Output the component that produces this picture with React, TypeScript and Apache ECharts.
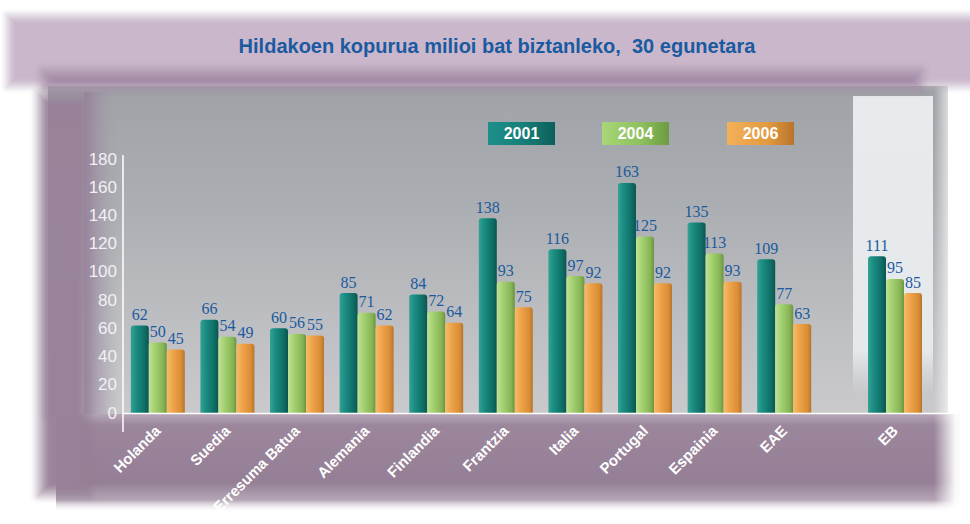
import React, { useEffect, useRef } from 'react';
import * as echarts from 'echarts';

const categories = ['Holanda', 'Suedia', 'Erresuma Batua', 'Alemania', 'Finlandia', 'Frantzia', 'Italia', 'Portugal', 'Espainia', 'EAE', 'EB'];
const years = ['2001', '2004', '2006'];
const values2001 = [62, 66, 60, 85, 84, 138, 116, 163, 135, 109, 111];
const values2004 = [50, 54, 56, 71, 72, 93, 97, 125, 113, 77, 95];
const values2006 = [45, 49, 55, 62, 64, 75, 92, 92, 93, 63, 85];
const yMin = 0;
const yMax = 180;
const yInterval = 20;
const titleText = 'Hildakoen kopurua milioi bat biztanleko,  30 egunetara';

const SANS = '"Liberation Sans", Arial, sans-serif';
const SERIF = '"Liberation Serif", "DejaVu Serif", serif';

const lg = (stops: [number, string][], horizontal = true) =>
  new echarts.graphic.LinearGradient(0, 0, horizontal ? 1 : 0, horizontal ? 0 : 1,
    stops.map(([offset, color]) => ({ offset, color })));

// fake blurred rectangle: stacked translucent rects following a smooth ramp
const soft = (x: number, y: number, w: number, h: number, rgb: string, blur: number, z: number, steps = 16, peak = 0.97) => {
  const out: any[] = [];
  const ss = (t: number) => t * t * (3 - 2 * t);
  let prev = 0;
  for (let k = 1; k <= steps; k++) {
    const c = peak * ss(k / steps);
    const a = 1 - (1 - c) / (1 - prev);
    prev = c;
    const d = blur / 2 - (blur * (k - 1)) / (steps - 1);
    out.push({
      type: 'rect', z, silent: true,
      shape: { x: x - d, y: y - d, width: w + 2 * d, height: h + 2 * d, r: Math.max(0, d * 0.8) },
      style: { fill: `rgba(${rgb},${a.toFixed(4)})` },
    });
  }
  return out;
};

const barFills = [
  () => lg([[0, '#34a295'], [0.3, '#1a8c82'], [0.75, '#0f6f67'], [1, '#0a564f']]),
  () => lg([[0, '#bfe295'], [0.35, '#a3d06f'], [0.8, '#86b455'], [1, '#6b9440']]),
  () => lg([[0, '#f7bb68'], [0.35, '#eea34a'], [0.8, '#d98d36'], [1, '#b8742a']]),
];
const legendFills = [
  () => lg([[0, '#1f8f8a'], [0.5, '#168079'], [1, '#0c5f5a']]),
  () => lg([[0, '#a8d678'], [0.6, '#8cbf5c'], [1, '#6d9a42']]),
  () => lg([[0, '#f3b15a'], [0.6, '#e39a40'], [1, '#b8742c']]),
];

export default function App() {
  const ref = useRef<HTMLDivElement>(null);
  useEffect(() => {
    if (!ref.current) return;
    document.body.style.margin = '0';
    const chart = echarts.init(ref.current, undefined, { renderer: 'svg' });
    const seriesValues = [values2001, values2004, values2006];
    const mainCats = categories.slice(0, 10);
    const sideCats = categories.slice(10);

    const series: any[] = [];
    [0, 1].forEach((g) => {
      seriesValues.forEach((vals, i) => {
        series.push({
          type: 'bar',
          name: years[i],
          xAxisIndex: g,
          yAxisIndex: g,
          data: g === 0 ? vals.slice(0, 10) : vals.slice(10),
          barWidth: 18,
          barGap: '0%',
          itemStyle: { color: barFills[i](), borderRadius: [3, 3, 0, 0] },
          label: {
            show: true,
            position: 'top',
            distance: 3,
            color: '#1b5a9e',
            fontFamily: SERIF,
            fontSize: 16,
          },
          z: 3,
        });
      });
    });

    const legendItems: any[] = [];
    const legendX = [488, 602, 727];
    years.forEach((y, i) => {
      legendItems.push({
        type: 'rect',
        shape: { x: legendX[i], y: 122, width: 67, height: 23 },
        style: { fill: legendFills[i]() },
        z: 5,
      });
      legendItems.push({
        type: 'text',
        x: legendX[i] + 33.5,
        y: 133.5,
        style: {
          text: y, fill: '#ffffff', font: `bold 16px ${SANS}`,
          textAlign: 'center', textVerticalAlign: 'middle',
        },
        z: 6,
      });
    });

    const bg: any[] = [
      // gray plot area
      ...soft(46, 88, 896, 328, '190,191,195', 16, -31, 12, 0.9),
      {
        type: 'rect', z: -30, silent: true,
        shape: { x: 48, y: 86, width: 900, height: 330 },
        style: { fill: lg([[0, '#9fa2a6'], [0.35, '#aaadb1'], [0.75, '#bfc0c4'], [1, '#cacacd']], false) },
      },
      // EB panel
      {
        type: 'rect', z: -29, silent: true,
        shape: { x: 853, y: 96, width: 80, height: 300 },
        style: { fill: lg([[0, '#e8ebee'], [0.85, '#e6e9ec'], [1, 'rgba(222,224,228,0)']], false) },
      },
      // bottom band
      {
        type: 'rect', z: -28, silent: true,
        shape: { x: 56, y: 414, width: 904, height: 98 },
        style: { fill: lg([[0, '#b5a6b7'], [0.12, '#9b869c'], [0.7, '#957f96'], [0.88, '#b5a6b6'], [1, '#ffffff']], false) },
      },
      // left purple strip
      ...soft(40, 96, 48, 398, '152,130,154', 22, -27),
      {
        type: 'rect', z: -26, silent: true,
        shape: { x: 84, y: 92, width: 36, height: 322 },
        style: { fill: lg([[0, 'rgba(152,130,154,0.85)'], [0.5, 'rgba(160,145,165,0.5)'], [1, 'rgba(170,170,175,0)']]) },
      },
      // right white fade
      {
        type: 'rect', z: -25, silent: true,
        shape: { x: 934, y: 78, width: 36, height: 446 },
        style: { fill: lg([[0, 'rgba(255,255,255,0)'], [0.6, 'rgba(255,255,255,0.95)'], [1, '#ffffff']]) },
      },
      // bottom white fade
      {
        type: 'rect', z: -25, silent: true,
        shape: { x: 0, y: 500, width: 970, height: 24 },
        style: { fill: lg([[0, 'rgba(255,255,255,0)'], [0.5, 'rgba(255,255,255,0.95)'], [1, '#ffffff']], false) },
      },
      // top banner
      ...soft(8, 16, 990, 70, '202,181,203', 16, -24),
      // darker band under title
      ...soft(44, 72, 876, 16, '160,136,162', 22, -23, 16, 0.9),
      // axis lines
      {
        type: 'line', z: 4,
        shape: { x1: 123, y1: 155, x2: 123, y2: 432 },
        style: { stroke: '#ffffff', lineWidth: 1.5 },
      },
      {
        type: 'line', z: 4,
        shape: { x1: 123, y1: 413.5, x2: 950, y2: 413.5 },
        style: { stroke: '#ffffff', lineWidth: 1.5 },
      },
    ];

    const axisLabelStyle = { rotate: 45, color: '#ffffff', fontWeight: 'bold', fontSize: 15, fontFamily: SANS, margin: 15, interval: 0 };

    const option: any = {
      animation: false,
      backgroundColor: '#ffffff',
      title: {
        text: titleText,
        left: 492,
        top: 31,
        textAlign: 'center',
        textStyle: { color: '#1a5aa0', fontSize: 20, fontWeight: 'bold', fontFamily: SANS },
      },
      grid: [
        { left: 123, top: 159, width: 696, height: 254 },
        { left: 860, top: 159, width: 70, height: 254 },
      ],
      xAxis: [
        {
          type: 'category', gridIndex: 0, data: mainCats,
          axisLine: { show: false }, axisTick: { show: false },
          axisLabel: axisLabelStyle,
        },
        {
          type: 'category', gridIndex: 1, data: sideCats,
          axisLine: { show: false }, axisTick: { show: false },
          axisLabel: axisLabelStyle,
        },
      ],
      yAxis: [
        {
          type: 'value', gridIndex: 0, min: yMin, max: yMax, interval: yInterval,
          axisLine: { show: false }, axisTick: { show: false }, splitLine: { show: false },
          axisLabel: { color: '#f4f0f4', fontSize: 17, fontFamily: SANS, margin: 6 },
        },
        {
          type: 'value', gridIndex: 1, min: yMin, max: yMax, interval: yInterval, show: false,
          splitLine: { show: false },
        },
      ],
      graphic: { elements: [...bg, ...legendItems] },
      series,
    };
    chart.setOption(option);
    return () => chart.dispose();
  }, []);
  return <div ref={ref} style={{ position: 'fixed', left: 0, top: 0, width: 970, height: 524 }} />;
}
